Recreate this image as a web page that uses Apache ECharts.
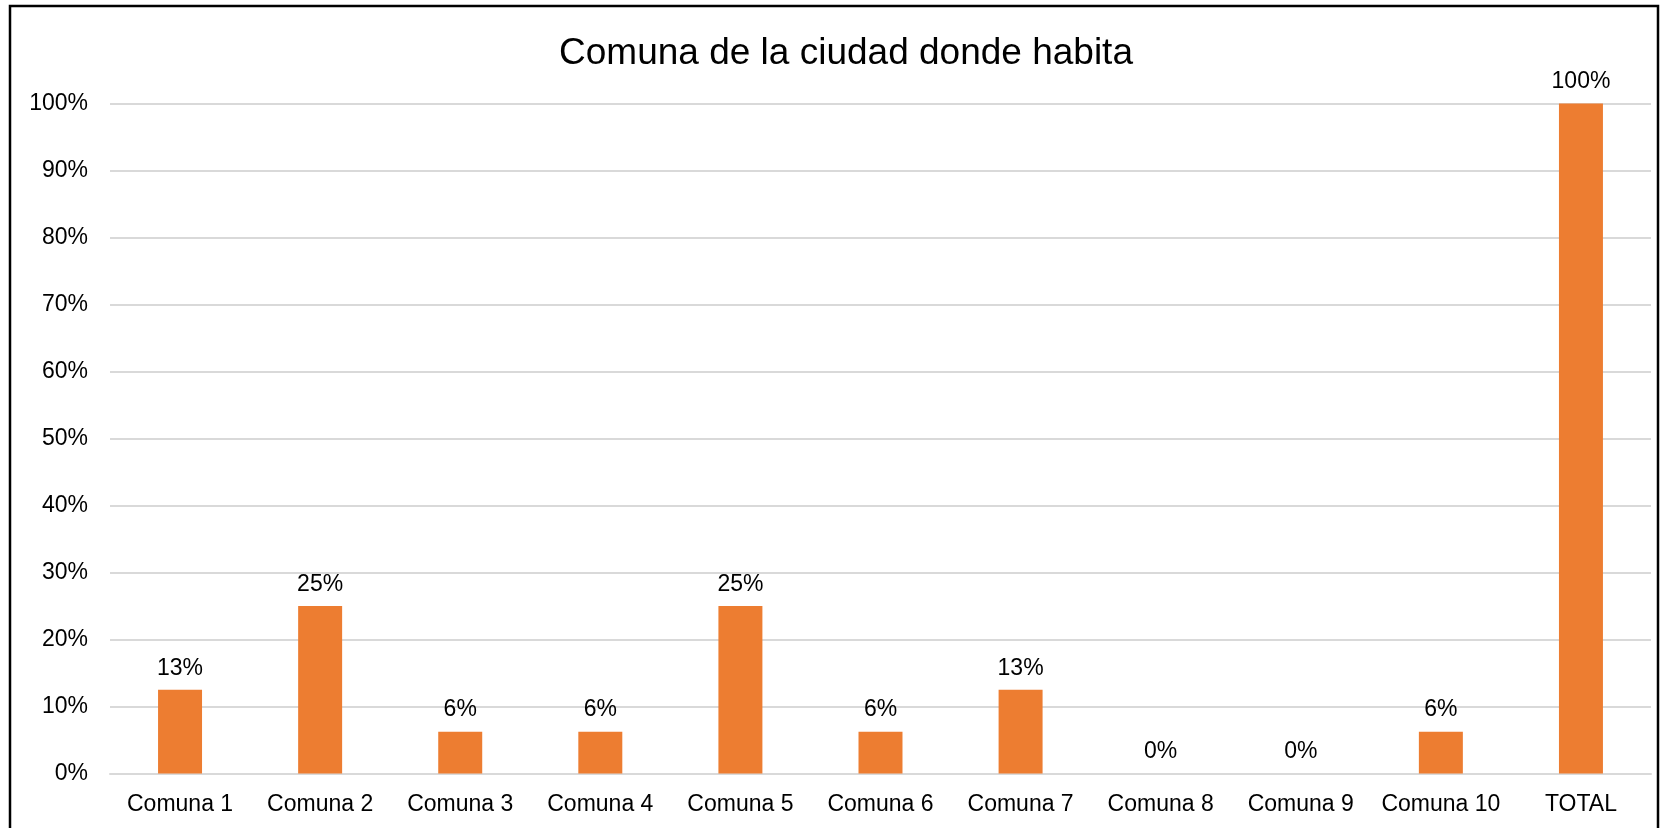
<!DOCTYPE html>
<html>
<head>
<meta charset="utf-8">
<title>Comuna de la ciudad donde habita</title>
<script src="https://cdn.jsdelivr.net/npm/echarts@6/dist/echarts.min.js"></script>
<style>
    html, body { margin: 0; padding: 0; background: #fff; }
    #main { width: 1660px; height: 828px; }
</style>
</head>
<body>
<div id="main"></div>
<script>
// datos del grafico
var categorias = ['Comuna 1', 'Comuna 2', 'Comuna 3', 'Comuna 4', 'Comuna 5', 'Comuna 6', 'Comuna 7', 'Comuna 8', 'Comuna 9', 'Comuna 10', 'TOTAL'];
var porcentajes = [12.5, 25, 6.25, 6.25, 25, 6.25, 12.5, 0, 0, 6.25, 100];
var titulo = 'Comuna de la ciudad donde habita';

var fuente = '"Liberation Sans", Arial, sans-serif';

var chart = echarts.init(document.getElementById('main'));

var option = {
    backgroundColor: '#fff',
    animation: false,
    textStyle: { fontFamily: fuente },
    title: {
        text: titulo,
        left: 841,
        textAlign: 'center',
        top: 30,
        textStyle: { fontFamily: fuente, fontSize: 37, fontWeight: 'normal', color: '#000' }
    },
    //marco del grafico
    graphic: [{
        type: 'rect',
        z: -1,
        shape: { x: 10, y: 6, width: 1648, height: 900 },
        style: { fill: 'none', stroke: '#000', lineWidth: 2.5 }
    }],
    grid: { left: 110, right: 9, top: 103.5, bottom: 54.5 },
    xAxis: {
        type: 'category',
        data: categorias,
        axisLine: { show: true, lineStyle: { color: '#d9d9d9', width: 2 } },
        axisTick: { show: false },
        axisLabel: { interval: 0, fontFamily: fuente, fontSize: 23, color: '#000', margin: 20 }
    },
    yAxis: {
        type: 'value',
        min: 0,
        max: 100,
        interval: 10,
        axisLine: { show: false },
        axisTick: { show: false },
        splitLine: { lineStyle: { color: '#d9d9d9', width: 2 } },
        axisLabel: { fontFamily: fuente, fontSize: 23, color: '#000', margin: 22, formatter: '{value}%' }
    },
    series: [{
        type: 'bar',
        data: porcentajes,
        barWidth: '31.4%',
        itemStyle: { color: '#ED7D31' },
        label: {
            show: true,
            position: 'top',
            distance: 10,
            fontFamily: fuente,
            fontSize: 23,
            color: '#000',
            formatter: function (p) { return Math.round(p.value) + '%'; }
        }
    }]
};

chart.setOption(option);
</script>
</body>
</html>
